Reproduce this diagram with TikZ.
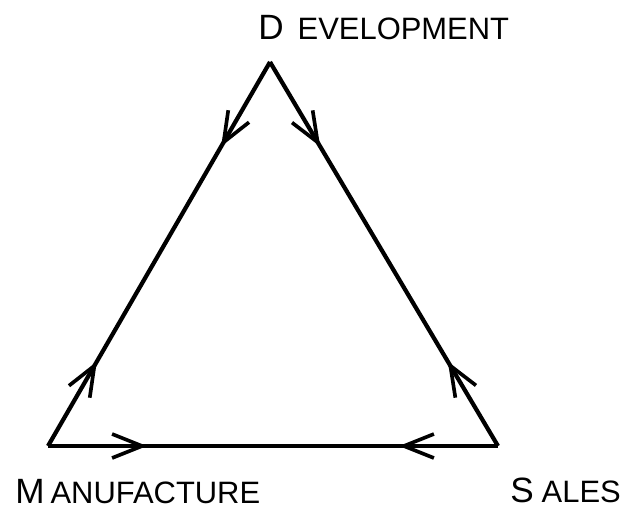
\documentclass[tikz,border=0pt]{standalone}
\usepackage{fontspec}
\usepackage{tikz}
\usetikzlibrary{arrows.meta, decorations.markings, positioning}
\newfontfamily\lettering{Liberation Sans}
\newcommand{\capword}[3]{{\fontsize{25}{30}\selectfont #1}\hspace{#3}{\fontsize{22}{24}\selectfont #2}}

\begin{document}
\begin{tikzpicture}[
  corner/.style={inner sep=0pt, anchor=base west, font=\lettering},
  edge/.style={line width=3pt, line join=round, postaction={decorate}, decoration={markings,
    mark=at position 0.22 with {\arrow{barb}},
    mark=at position 0.78 with {\arrowreversed{barb}}}},
  barb/.tip={Straight Barb[length=7.5mm, width=6mm, line width=2.6pt]}
]
  \useasboundingbox (0,0) rectangle (15.675,12.75);

  \coordinate (dev) at (6.75,11.2);
  \coordinate (man) at (1.2,1.6);
  \coordinate (sal) at (12.45,1.6);

  \draw[edge] (dev) -- (man);
  \draw[edge] (man) -- (sal);
  \draw[edge] (sal) -- (dev);

  \node[corner] (devlbl) at (6.45,11.75) {\capword{D}{EVELOPMENT}{0.35cm}};
  \node[corner] (manlbl) at (0.375,0.175) {\capword{M}{ANUFACTURE}{0.15cm}};
  \node[corner] (sallbl) at (12.75,0.2) {\capword{S}{ALES}{0.2cm}};
\end{tikzpicture}
\end{document}
